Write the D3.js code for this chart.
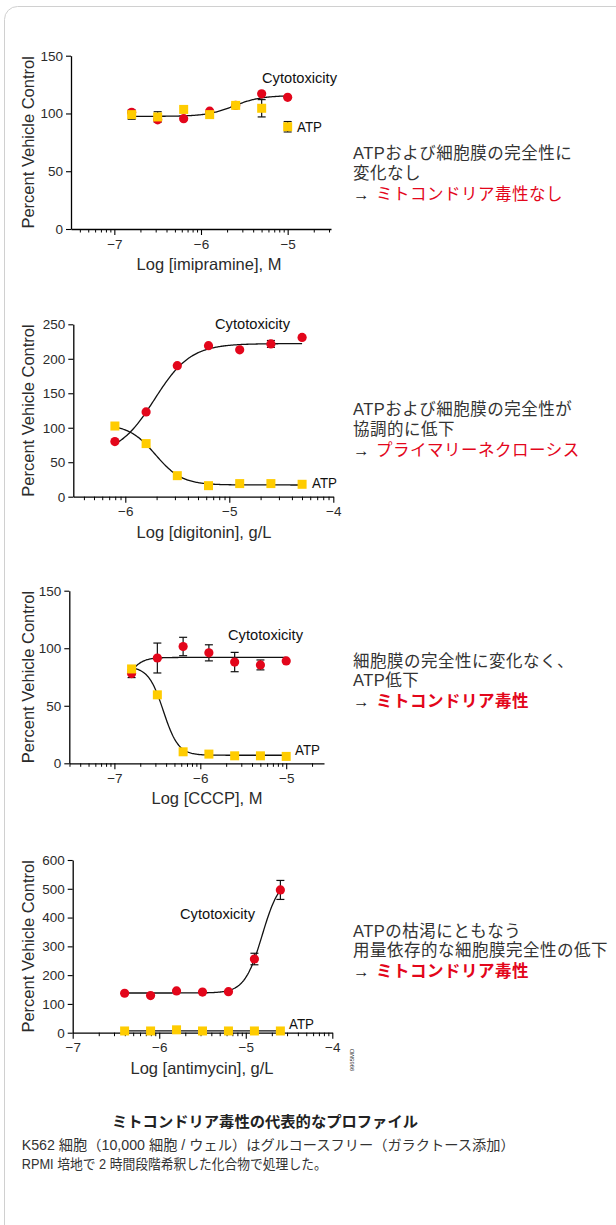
<!DOCTYPE html>
<html><head><meta charset="utf-8">
<script src="https://cdn.jsdelivr.net/npm/d3@7"></script>
<style>
body{margin:0;background:#fff}
svg{display:block}
</style>
</head><body>
<svg id="chart" width="616" height="1225"></svg>
<script>
// ---- Data: log dose, % vehicle control, error (SD); fits are [low-dose plateau, high-dose plateau, logEC50, Hill slope]
const imipramineDose = [-6.8, -6.5, -6.2, -5.9, -5.6, -5.3, -5.0];
const imipramineCyto = [101, 94.5, 95.5, 102, 107, 117, 114];
const imipramineCytoErr = [0, 0, 0, 0, 0, 0, 0];
const imipramineATP = [99, 97, 103.5, 99, 107, 104.5, 88.5];
const imipramineATPErr = [4, 4.5, 0, 0, 0, 7.5, 4.5];
const imipramineCytoFit = [97.5, 115.5, -5.62, 2.8];

const digitoninDose = [-6.1, -5.8, -5.5, -5.2, -4.9, -4.6, -4.3];
const digitoninCyto = [80, 123, 190, 219, 213, 221.5, 231];
const digitoninCytoErr = [0, 0, 0, 0, 0, 5, 0];
const digitoninATP = [102.5, 77, 30.5, 16, 19, 19, 18];
const digitoninATPErr = [0, 0, 0, 0, 0, 0, 0];
const digitoninCytoFit = [60, 222, -5.72, 2.5];
const digitoninATPFit = [105, 17, -5.71, 3.4];

const ccpDose = [-6.8, -6.5, -6.2, -5.9, -5.6, -5.3, -5.0];
const ccpCyto = [78, 91.5, 101.5, 96, 88, 85.5, 89];
const ccpCytoErr = [3.5, 13, 8, 7, 8.4, 4.3, 0];
const ccpATP = [82, 59.5, 10, 8, 6.5, 6.5, 6];
const ccpATPErr = [0, 0, 0, 0, 0, 0, 0];
const ccpCytoFit = [50, 92, -6.88, 5];
const ccpATPFit = [84, 7, -6.43, 5];

const antimycinDose = [-6.4, -6.1, -5.8, -5.5, -5.2, -4.9, -4.6];
const antimycinCyto = [137, 129, 145, 141, 142.5, 256, 496];
const antimycinCytoErr = [0, 0, 0, 0, 0, 20, 33];
const antimycinATP = [6, 6, 10, 6, 6, 6, 6];
const antimycinATPErr = [0, 0, 0, 0, 0, 0, 0];
const antimycinCytoFit = [138, 540, -4.81, 4.27];
const antimycinATPFit = [6, 6, -5.5, 1];

// tick values
const imipramineYTicks = [0, 50, 100, 150];
const digitoninYTicks = [0, 50, 100, 150, 200, 250];
const ccpYTicks = [0, 50, 100, 150];
const antimycinYTicks = [0, 100, 200, 300, 400, 500, 600];
const imipramineXTicks = [-7, -6, -5];
const digitoninXTicks = [-6, -5, -4];
const ccpXTicks = [-7, -6, -5];
const antimycinXTicks = [-7, -6, -5, -4];

// interpretation text
const imipramineNote = ["ATPおよび細胞膜の完全性に", "変化なし"];
const imipramineVerdict = "ミトコンドリア毒性なし";
const digitoninNote = ["ATPおよび細胞膜の完全性が", "協調的に低下"];
const digitoninVerdict = "プライマリーネクローシス";
const ccpNote = ["細胞膜の完全性に変化なく、", "ATP低下"];
const ccpVerdict = "ミトコンドリア毒性";
const antimycinNote = ["ATPの枯渇にともなう", "用量依存的な細胞膜完全性の低下"];
const antimycinVerdict = "ミトコンドリア毒性";

const captionTitle = "ミトコンドリア毒性の代表的なプロファイル";
const captionLines = [
  "K562 細胞（10,000 細胞 / ウェル）はグルコースフリー（ガラクトース添加）",
  "RPMI 培地で 2 時間段階希釈した化合物で処理した。"
];

// ---- Layout of each panel
const panels = [
  { dose: imipramineDose, cyto: imipramineCyto, cytoErr: imipramineCytoErr, atp: imipramineATP, atpErr: imipramineATPErr,
    fits: [imipramineCytoFit], xDomain: [-7.5, -4.5], xRange: [71, 331], yDomain: [0, 150], yRange: [229, 55.7],
    yTicks: imipramineYTicks, xTicks: imipramineXTicks, xTitle: "Log [imipramine], M", xTitleX: 209,
    cytoLabel: [262, 83], atpLabel: [297, 132], note: imipramineNote, verdict: imipramineVerdict, noteY: 159, bold: false },
  { dose: digitoninDose, cyto: digitoninCyto, cytoErr: digitoninCytoErr, atp: digitoninATP, atpErr: digitoninATPErr,
    fits: [digitoninCytoFit, digitoninATPFit], xDomain: [-6.5, -4], xRange: [73.3, 333.3], yDomain: [0, 250], yRange: [496.7, 324.3],
    yTicks: digitoninYTicks, xTicks: digitoninXTicks, xTitle: "Log [digitonin], g/L", xTitleX: 204,
    cytoLabel: [215, 329], atpLabel: [312, 488], note: digitoninNote, verdict: digitoninVerdict, noteY: 415, bold: false },
  { dose: ccpDose, cyto: ccpCyto, cytoErr: ccpCytoErr, atp: ccpATP, atpErr: ccpATPErr,
    fits: [ccpCytoFit, ccpATPFit], xDomain: [-7.525, -4.56], xRange: [69.3, 324], yDomain: [0, 150], yRange: [763.3, 590.7],
    yTicks: ccpYTicks, xTicks: ccpXTicks, xTitle: "Log [CCCP], M", xTitleX: 207,
    cytoLabel: [228, 640], atpLabel: [295, 755], note: ccpNote, verdict: ccpVerdict, noteY: 666.5, bold: true },
  { dose: antimycinDose, cyto: antimycinCyto, cytoErr: antimycinCytoErr, atp: antimycinATP, atpErr: antimycinATPErr,
    fits: [antimycinCytoFit, antimycinATPFit], xDomain: [-7, -4], xRange: [72.7, 332.3], yDomain: [0, 600], yRange: [1032.7, 860],
    yTicks: antimycinYTicks, xTicks: antimycinXTicks, xTitle: "Log [antimycin], g/L", xTitleX: 202,
    cytoLabel: [180, 919], atpLabel: [289, 1029], note: antimycinNote, verdict: antimycinVerdict, noteY: 936.5, bold: true }
];

const RED = "#e3061b", YELLOW = "#ffcc00", INK = "#2b2b2b";
const AXIS_FONT = "'Liberation Sans', Arial, Helvetica, sans-serif";
// Latin face first (compact line box); kana/kanji fall through to Noto Sans CJK JP
const JP_FONT = "'Liberation Sans', 'Noto Sans CJK JP', 'Noto Sans', sans-serif";

const svg = d3.select("#chart");

// card outline (open toward the right and bottom edges)
svg.append("rect").attr("x", 4.5).attr("y", 6.5).attr("width", 900).attr("height", 1500)
  .attr("rx", 13).attr("fill", "none").attr("stroke", "#d0d0d0").attr("stroke-width", 1);

// four-parameter logistic
function logistic(p, x) {
  const [lo, hi, c, h] = p;
  return lo + (hi - lo) / (1 + Math.pow(10, (c - x) * h));
}

// log-decade minor tick positions inside a domain
function minorTicks(domain) {
  const out = [];
  for (let d = Math.floor(domain[0]) - 1; d <= Math.ceil(domain[1]); d++) {
    for (let k = 2; k <= 9; k++) {
      const v = d + Math.log10(k);
      if (v > domain[0] + 1e-6 && v < domain[1] + 1e-6) out.push(v);
    }
  }
  return out;
}

panels.forEach(p => {
  const x = d3.scaleLinear().domain(p.xDomain).range(p.xRange);
  const y = d3.scaleLinear().domain(p.yDomain).range(p.yRange);
  const g = svg.append("g");

  // minor x ticks
  const minor = g.append("g").attr("transform", `translate(0,${p.yRange[0]})`)
    .call(d3.axisBottom(x).tickValues(minorTicks(p.xDomain)).tickSize(3.5).tickSizeOuter(0).tickFormat(""));
  minor.select(".domain").remove();
  minor.selectAll("line").attr("stroke", "#000").attr("stroke-width", 1);

  // major x ticks and axis line
  const xa = g.append("g").attr("transform", `translate(0,${p.yRange[0]})`)
    .call(d3.axisBottom(x).tickValues(p.xTicks).tickSize(6).tickSizeOuter(0).tickPadding(4).tickFormat(d3.format("d")));
  xa.select(".domain").attr("stroke", "#000").attr("stroke-width", 1.3);
  xa.selectAll("line").attr("stroke", "#000").attr("stroke-width", 1.1);
  xa.selectAll("text").attr("font-family", AXIS_FONT).attr("font-size", 13.5).attr("fill", INK);

  // y axis
  const ya = g.append("g").attr("transform", `translate(${p.xRange[0]},0)`)
    .call(d3.axisLeft(y).tickValues(p.yTicks).tickSize(5).tickSizeOuter(0).tickPadding(3));
  ya.select(".domain").attr("stroke", "#000").attr("stroke-width", 1.3);
  ya.selectAll("line").attr("stroke", "#000").attr("stroke-width", 1.1);
  ya.selectAll("text").attr("font-family", AXIS_FONT).attr("font-size", 13.5).attr("fill", INK);

  // axis titles
  g.append("text").attr("x", p.xTitleX).attr("y", p.yRange[0] + 41)
    .attr("text-anchor", "middle").attr("font-family", AXIS_FONT).attr("font-size", 16.5).attr("fill", INK)
    .text(p.xTitle);
  g.append("text").attr("transform", `translate(28,${(p.yRange[0] + p.yRange[1]) / 2}) rotate(-90)`)
    .attr("dy", "0.35em").attr("text-anchor", "middle").attr("font-family", AXIS_FONT).attr("font-size", 16.5).attr("fill", INK)
    .text("Percent Vehicle Control");

  // fitted curves
  const d0 = d3.min(p.dose), d1 = d3.max(p.dose);
  const line = d3.line().x(d => x(d[0])).y(d => y(d[1]));
  p.fits.forEach(f => {
    const pts = d3.range(0, 201).map(i => {
      const xv = d0 + (d1 - d0) * i / 200;
      return [xv, logistic(f, xv)];
    });
    g.append("path").attr("d", line(pts)).attr("fill", "none").attr("stroke", "#111").attr("stroke-width", 1.3);
  });

  // error bars
  const drawErr = (vals, errs) => {
    vals.forEach((v, i) => {
      const e = errs[i];
      if (!e) return;
      const cx = x(p.dose[i]);
      const eb = g.append("g").attr("stroke", "#111").attr("stroke-width", 1.2);
      eb.append("line").attr("x1", cx).attr("x2", cx).attr("y1", y(v - e)).attr("y2", y(v + e));
      eb.append("line").attr("x1", cx - 4).attr("x2", cx + 4).attr("y1", y(v - e)).attr("y2", y(v - e));
      eb.append("line").attr("x1", cx - 4).attr("x2", cx + 4).attr("y1", y(v + e)).attr("y2", y(v + e));
    });
  };
  drawErr(p.cyto, p.cytoErr);
  drawErr(p.atp, p.atpErr);

  // cytotoxicity (circles)
  g.selectAll(null).data(p.cyto).enter().append("circle")
    .attr("cx", (d, i) => x(p.dose[i])).attr("cy", d => y(d)).attr("r", 4.6).attr("fill", RED);
  // ATP (squares)
  g.selectAll(null).data(p.atp).enter().append("rect")
    .attr("x", (d, i) => x(p.dose[i]) - 4.5).attr("y", d => y(d) - 4.5)
    .attr("width", 9).attr("height", 9).attr("fill", YELLOW);

  // series labels
  g.append("text").attr("x", p.cytoLabel[0]).attr("y", p.cytoLabel[1])
    .attr("font-family", AXIS_FONT).attr("font-size", 15).attr("fill", "#111")
    .attr("textLength", 75).attr("lengthAdjust", "spacingAndGlyphs").text("Cytotoxicity");
  g.append("text").attr("x", p.atpLabel[0]).attr("y", p.atpLabel[1])
    .attr("font-family", AXIS_FONT).attr("font-size", 15).attr("fill", "#111")
    .attr("textLength", 25).attr("lengthAdjust", "spacingAndGlyphs").text("ATP");

  // interpretation: one text block, three lines
  const t = g.append("text").attr("font-family", JP_FONT).attr("font-size", 16.5)
    .attr("letter-spacing", 0.5).attr("y", p.noteY);
  p.note.forEach((s, i) => {
    t.append("tspan").attr("x", 353).attr("dy", i === 0 ? 0 : 19.8).attr("fill", "#333").text(s);
  });
  t.append("tspan").attr("x", 353).attr("dy", 21).attr("fill", "#222").text("→");
  t.append("tspan").attr("x", 376).attr("fill", RED)
    .attr("font-weight", p.bold ? 700 : 400).text(p.verdict);
});

// figure code
svg.append("text").attr("transform", "translate(354,1060) rotate(-90)")
  .attr("text-anchor", "middle").attr("font-family", AXIS_FONT).attr("font-size", 6).attr("fill", "#333")
  .text("9965MD");

// caption
svg.append("text").attr("x", 265).attr("y", 1127).attr("text-anchor", "middle")
  .attr("font-family", JP_FONT).attr("font-size", 15).attr("font-weight", 700).attr("fill", "#222")
  .attr("textLength", 306).attr("lengthAdjust", "spacingAndGlyphs").text(captionTitle);
const capLen = [493, 305];
captionLines.forEach((s, i) => {
  svg.append("text").attr("x", 21.7).attr("y", 1150 + i * 18.5)
    .attr("font-family", JP_FONT).attr("font-size", 14).attr("fill", "#333")
    .attr("textLength", capLen[i]).attr("lengthAdjust", "spacingAndGlyphs").text(s);
});
</script>
</body></html>
